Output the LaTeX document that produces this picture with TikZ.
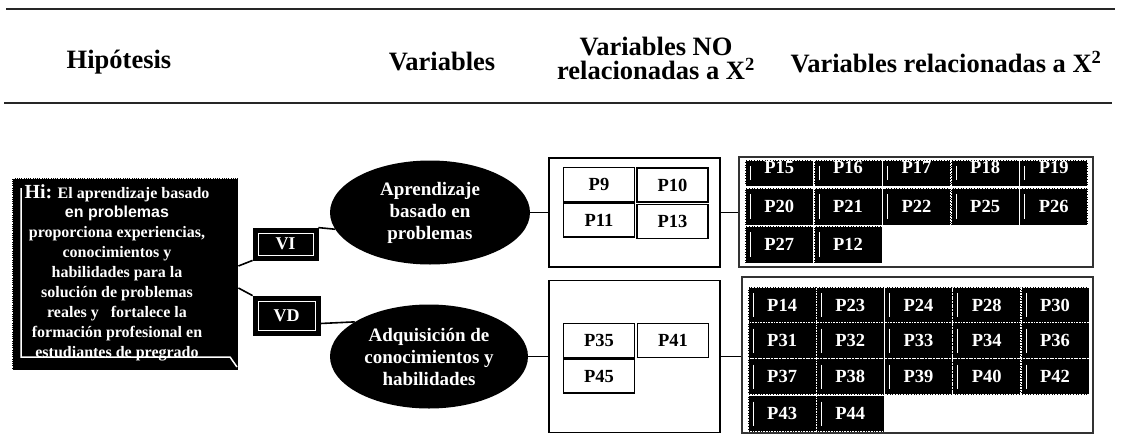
\documentclass[tikz,border=0pt]{standalone}
\usepackage{fontspec}
\setmainfont{Liberation Serif}
\setsansfont{Liberation Sans}
\usetikzlibrary{shapes.geometric}
\tikzset{
 rule/.style={line width=2pt, black!85},
 hdr/.style={font=\bfseries\fontsize{26.5}{24}\selectfont, inner sep=0pt, align=center},
 hibox/.style={fill=black, draw=white, densely dotted, line width=0.8pt, minimum width=226pt, minimum height=192pt, inner sep=0pt},
 hitext/.style={text=white, align=center, font=\bfseries\fontsize{16}{19.9}\selectfont, inner sep=0pt},
 vbox/.style={fill=black, draw=black, line width=0.8pt, text=white, font=\bfseries\fontsize{18}{18}\selectfont, inner sep=0pt,
   path picture={\draw[white, line width=1pt] ([xshift=5pt,yshift=-5pt]path picture bounding box.north west) rectangle ([xshift=-5pt,yshift=5pt]path picture bounding box.south east);}},
 ell/.style={ellipse, fill=black, inner sep=0pt, text=white, align=center, font=\bfseries\fontsize{19}{22}\selectfont},
 frameA/.style={draw=black, line width=1.8pt, inner sep=0pt},
 frameB/.style={draw=black!80, line width=1.5pt, inner sep=0pt},
 pw/.style={draw=black, line width=1.2pt, fill=white, minimum width=71pt, minimum height=34pt, inner sep=0pt, font=\bfseries\fontsize{18.5}{18.5}\selectfont},
 pb/.style={fill=black, draw=white, densely dotted, line width=0.6pt, minimum width=68pt, minimum height=36pt, inner sep=0pt, text=white, font=\bfseries\fontsize{18.5}{18.5}\selectfont,
   path picture={\draw[white, solid, line width=0.7pt] ([xshift=5pt,yshift=-6pt]path picture bounding box.north west) -- ([xshift=5pt,yshift=6pt]path picture bounding box.south west);}},
 pbtop/.style={pb, minimum height=26pt, text height=13pt, text depth=13pt},
 conn/.style={line width=1.6pt, black},
}
\begin{document}
\begin{tikzpicture}[x=1pt,y=-1pt]
\useasboundingbox (0,0) rectangle (1121,434);
\fill[white] (0,0) rectangle (1121,434);

% header
\draw[rule] (6,9) -- (1115,9);
\draw[rule] (4,103) -- (1112,103);
\node[hdr] (h1) at (119,62) {Hipótesis};
\node[hdr] (h2) at (442,62) {Variables};
\node[hdr] (h3) at (656,58) {Variables NO\\relacionadas a X\textsuperscript{2}};
\node[hdr] (h4) at (946,62) {Variables relacionadas a X\textsuperscript{2}};

% hypothesis box
\node[hibox] (hi) at (125,274) {};
\node[hitext] (hit) at (117,272.5) {{\fontsize{20}{19.9}\selectfont Hi:} El aprendizaje basado\\
{\sffamily en problemas}\\
proporciona experiencias,\\
conocimientos y\\
habilidades para la\\
solución de problemas\\
reales y\ \ \ fortalece la\\
formación profesional en\\
estudiantes de pregrado};
\draw[white, line width=1.5pt] (21,188) -- (21,357) -- (230,357) -- (237,367);

% VI / VD
\node[vbox, minimum width=65pt, minimum height=32pt] (vi) at (285.5,244) {VI};
\node[vbox, minimum width=67pt, minimum height=39pt] (vd) at (286.5,315.5) {VD};

% ellipses
\node[ell, minimum width=200pt, minimum height=104pt] (e1) at (430,212.5) {Aprendizaje\\basado en\\problemas};
\node[ell, minimum width=198pt, minimum height=104pt] (e2) at (429,356.5) {Adquisición de\\conocimientos y\\habilidades};

% frames
\node[frameA, minimum width=171pt, minimum height=109pt] (b1) at (634.5,212.5) {};
\node[frameA, minimum width=171pt, minimum height=152pt] (b2) at (634.5,356.5) {};
\node[frameB, minimum width=354pt, minimum height=110pt] (b3) at (916,212) {};
\node[frameB, minimum width=351pt, minimum height=156pt] (b4) at (917.5,355) {};

% not related
\node[pw] (p9)  at (599,184.5) {P9};
\node[pw] (p10) at (672.5,185) {P10};
\node[pw] (p11) at (599,220) {P11};
\node[pw] (p13) at (672.5,221.5) {P13};
\node[pw] (p35) at (599,340.5) {P35};
\node[pw] (p41) at (673,340.5) {P41};
\node[pw] (p45) at (599,376) {P45};

% related, first group
\node[pbtop] (p15) at (779.3,173) {P15};
\node[pbtop] (p16) at (847.9,173) {P16};
\node[pbtop] (p17) at (916.5,173) {P17};
\node[pbtop] (p18) at (985.1,173) {P18};
\node[pbtop] (p19) at (1053.7,173) {P19};
\node[pb, minimum height=37pt] (p20) at (779.3,206.5) {P20};
\node[pb, minimum height=37pt] (p21) at (847.9,206.5) {P21};
\node[pb, minimum height=37pt] (p22) at (916.5,206.5) {P22};
\node[pb, minimum height=37pt] (p25) at (985.1,206.5) {P25};
\node[pb, minimum height=37pt] (p26) at (1053.7,206.5) {P26};
\node[pb, minimum height=37pt] (p27) at (779.3,244.5) {P27};
\node[pb, minimum height=37pt] (p12) at (847.9,244.5) {P12};

% related, second group
\node[pb] (p14) at (782.1,305) {P14};
\node[pb] (p23) at (850.3,305) {P23};
\node[pb] (p24) at (918.5,305) {P24};
\node[pb] (p28) at (986.7,305) {P28};
\node[pb] (p30) at (1054.9,305) {P30};
\node[pb] (p31) at (782.1,340.5) {P31};
\node[pb] (p32) at (850.3,340.5) {P32};
\node[pb] (p33) at (918.5,340.5) {P33};
\node[pb] (p34) at (986.7,340.5) {P34};
\node[pb] (p36) at (1054.9,340.5) {P36};
\node[pb] (p37) at (782.1,376.5) {P37};
\node[pb] (p38) at (850.3,376.5) {P38};
\node[pb] (p39) at (918.5,376.5) {P39};
\node[pb] (p40) at (986.7,376.5) {P40};
\node[pb] (p42) at (1054.9,376.5) {P42};
\node[pb] (p43) at (782.1,413.5) {P43};
\node[pb] (p44) at (850.3,413.5) {P44};

% connectors
\draw[conn] ([yshift=8pt]hi.east) -- (vi.south west);
\draw[conn] ([yshift=-14pt]hi.east) -- (vd.north west);
\draw[conn] (vi.north east) -- (e1.190);
\draw[conn] ([yshift=-8pt]vd.east) -- (e2.155);
\draw[conn] (e1.east) -- (b1.west);
\draw[conn] (b1.east) -- (b1.east -| b3.west);
\draw[conn] (e2.east) -- (e2.east -| b2.west);
\draw[conn] (b2.east) -- (b2.east -| b4.west);
\end{tikzpicture}
\end{document}
